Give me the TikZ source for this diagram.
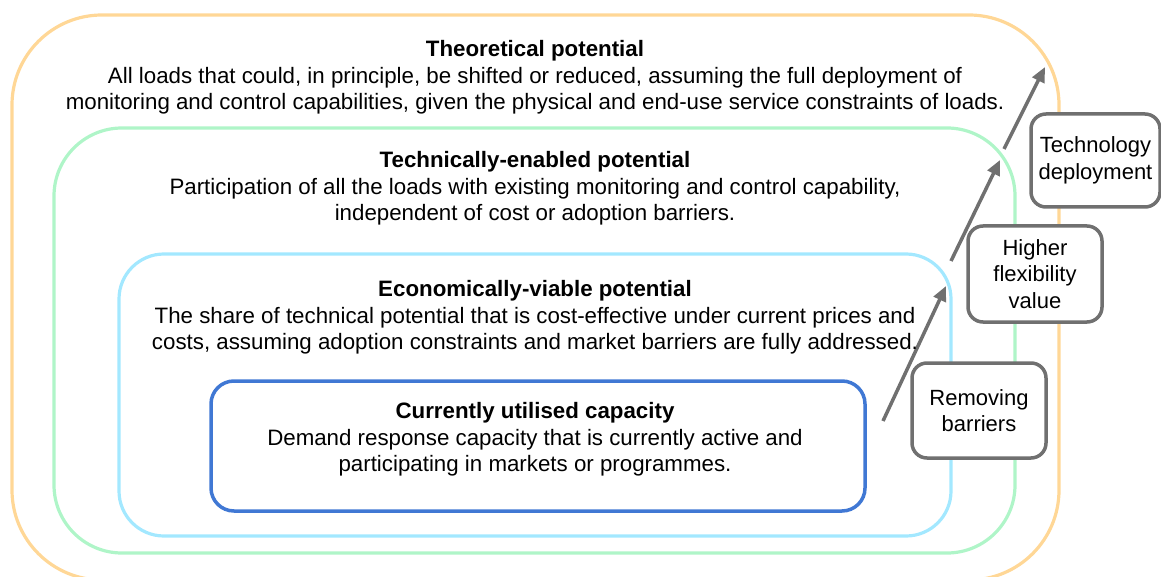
\documentclass[tikz,border=0pt]{standalone}
\usepackage{fontspec}
\setmainfont{Liberation Sans}
\usetikzlibrary{arrows.meta}
\definecolor{zorange}{RGB}{255,215,150}
\definecolor{zgreen}{RGB}{175,245,200}
\definecolor{zlblue}{RGB}{163,232,255}
\definecolor{zdblue}{RGB}{64,120,212}
\definecolor{zgray}{RGB}{112,112,112}
\begin{document}
\begin{tikzpicture}[x=1pt,y=-1pt,
  zone/.style={line width=3.2pt, inner sep=0pt, outer sep=0pt},
  blocktext/.style={align=center, inner sep=0pt, font=\fontsize{22.3}{26.6}\selectfont},
  gbox/.style={draw=zgray, line width=3.5pt, rounded corners=15pt, fill=white,
    align=center, inner sep=0pt, font=\fontsize{22}{26.5}\selectfont},
  arr/.style={draw=zgray, line width=3.5pt, -{Triangle[length=15pt,width=13pt]}}]
\useasboundingbox (0,0) rectangle (1161,577);
\clip (0,0) rectangle (1161,577);
% zones
\node[zone, draw=zorange, rounded corners=90pt, minimum width=1047pt, minimum height=565pt] (theo) at (535.5,297.5) {};
\node[zone, draw=zgreen, rounded corners=68pt, minimum width=961pt, minimum height=425pt] (tech) at (534.5,340.5) {};
\node[zone, draw=zlblue, rounded corners=45pt, minimum width=832pt, minimum height=282pt] (econ) at (535,395) {};
\node[zone, draw=zdblue, line width=3.5pt, rounded corners=23pt, minimum width=654pt, minimum height=130pt] (curr) at (538,446) {};
% side boxes
\node[gbox, minimum width=129pt, minimum height=93pt] (techdep) at (1095.5,160.5) {Technology\\deployment};
\node[gbox, minimum width=134pt, minimum height=96pt] (flex) at (1035,274) {Higher\\flexibility\\value};
\node[gbox, minimum width=134pt, minimum height=95pt] (barr) at (979,410.5) {Removing\\barriers};
% arrows
\coordinate (a1s) at (883,421);
\coordinate (a1e) at (946,286);
\coordinate (a2s) at (951,261);
\coordinate (a2e) at (1000,160);
\coordinate (a3s) at (1004,149);
\coordinate (a3e) at (1045,67);
\draw[arr] (a1s) -- (a1e);
\draw[arr] (a2s) -- (a2e);
\draw[arr] (a3s) -- (a3e);
% texts
\node[blocktext] (t1) at (535,77.5) {\textbf{Theoretical potential}\\All loads that could, in principle, be shifted or reduced, assuming the full deployment of\\monitoring and control capabilities, given the physical and end-use service constraints of loads.};
\node[blocktext] (t2) at (535,188.5) {\textbf{Technically-enabled potential}\\Participation of all the loads with existing monitoring and control capability,\\independent of cost or adoption barriers.};
\node[blocktext] (t3) at (535,317.5) {\textbf{Economically-viable potential}\\The share of technical potential that is cost-effective under current prices and\\costs, assuming adoption constraints and market barriers are fully addressed.};
\node[blocktext] (t4) at (535,439.5) {\textbf{Currently utilised capacity}\\Demand response capacity that is currently active and\\participating in markets or programmes.};
\end{tikzpicture}
\end{document}
